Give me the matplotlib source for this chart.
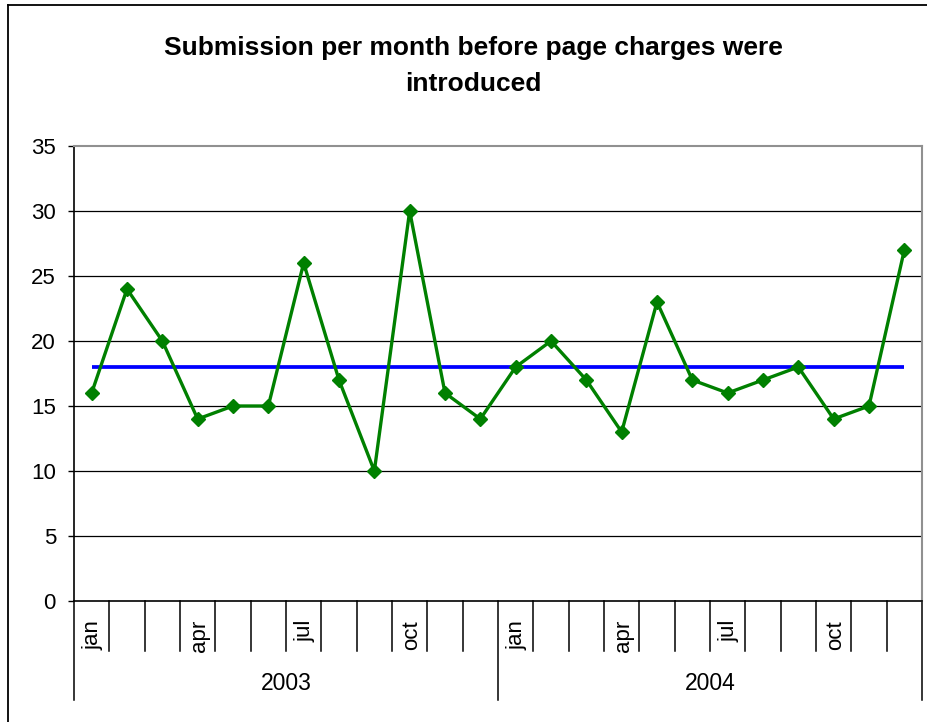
import matplotlib
matplotlib.use("Agg")
import matplotlib.pyplot as plt
from matplotlib.lines import Line2D

plt.rcParams['font.family'] = ['Liberation Sans', 'DejaVu Sans']

title = "Submission per month before page charges were\nintroduced"
years = ["2003", "2004"]
months = ["jan", "feb", "mar", "apr", "may", "jun", "jul", "aug", "sep", "oct", "nov", "dec"]
shown_months = ["jan", "apr", "jul", "oct"]
submissions = [16, 24, 20, 14, 15, 15, 26, 17, 10, 30, 16, 14,
               18, 20, 17, 13, 23, 17, 16, 17, 18, 14, 15, 27]
average = [18] * 24
y_ticks = [0, 5, 10, 15, 20, 25, 30, 35]

W, H = 927, 722
fig = plt.figure(figsize=(W / 100, H / 100), dpi=100)

L, R, T, B = 74, 922, 146, 601
ax = fig.add_axes([L / W, 1 - B / H, (R - L) / W, (B - T) / H])

n = len(submissions)
x = list(range(n))
ax.plot(x, average, color="#0000FF", lw=2.7, zorder=3, solid_capstyle="butt")
ax.plot(x, submissions, color="#008000", lw=2.4, marker="D", markersize=7.5,
        markerfacecolor="#008000", markeredgecolor="#008000", zorder=4)

ax.set_xlim(-0.5, n - 0.5)
ax.set_ylim(0, 35)
ax.set_yticks(y_ticks)
ax.set_yticklabels([str(v) for v in y_ticks], fontsize=16)
ax.tick_params(axis="y", direction="out", length=4.5, width=1, color="black", pad=8.5)
ax.set_xticks([])
for v in y_ticks[1:-1]:
    ax.axhline(v, color="black", lw=0.9, zorder=1)

for s in ["top", "right"]:
    ax.spines[s].set_color("#909090")
    ax.spines[s].set_linewidth(1.5)
ax.spines["left"].set_color("black")
ax.spines["left"].set_linewidth(1.2)
ax.spines["bottom"].set_color("black")
ax.spines["bottom"].set_linewidth(1.2)

trans = ax.get_xaxis_transform()
ph = B - T
short = -50 / ph
long_ = -99 / ph
labels_all = [m for y in years for m in months]
for i in range(n + 1):
    xb = i - 0.5
    is_year = (i % 12 == 0)
    ax.add_line(Line2D([xb, xb], [0, long_ if is_year else short], transform=trans,
                       color="black", lw=1.1, clip_on=False))
for i, lab in enumerate(labels_all):
    if lab in shown_months:
        ax.text(i + 0.05, -19 / ph, lab, transform=trans, rotation=90,
                ha="center", va="top", fontsize=16)
for k, yr in enumerate(years):
    ax.text(k * 12 + 5.5, -82 / ph, yr, transform=trans, ha="center", va="center",
            fontsize=16.5)

fig.text(473 / W, 1 - 66 / H, title, ha="center", va="center", fontsize=19,
         fontweight="bold", linespacing=1.6)

# outer chart frame
fig.add_artist(Line2D([8 / W, 8 / W], [0, 1 - 5 / H], transform=fig.transFigure,
                      color="black", lw=1.3))
fig.add_artist(Line2D([8 / W, 1], [1 - 5 / H, 1 - 5 / H], transform=fig.transFigure,
                      color="black", lw=1.3))

fig.savefig("out.png", dpi=100)
